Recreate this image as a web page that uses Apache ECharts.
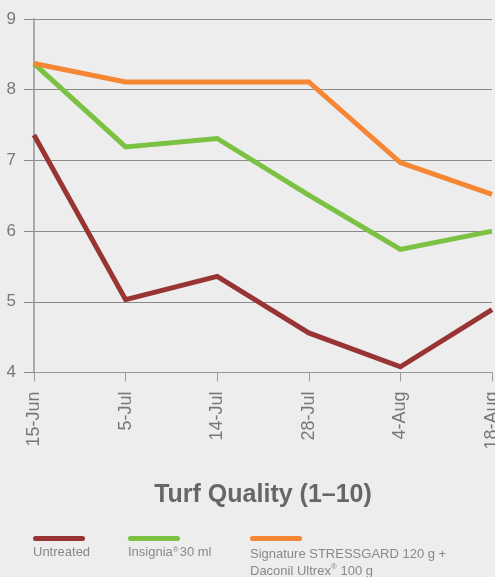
<!DOCTYPE html>
<html><head><meta charset="utf-8">
<script src="https://cdn.jsdelivr.net/npm/echarts@6/dist/echarts.min.js"></script>
<style>html,body{margin:0;padding:0;background:#ededed}#c{width:495px;height:577px}</style>
</head><body><div id="c"></div>
<script>
const categories = ['15-Jun','5-Jul','14-Jul','28-Jul','4-Aug','18-Aug'];
const untreated = [7.36, 5.03, 5.36, 4.56, 4.08, 4.89];
const insignia = [8.37, 7.19, 7.31, 6.51, 5.74, 6.0];
const signature = [8.37, 8.11, 8.11, 8.11, 6.97, 6.52];
const seriesNames = ['Untreated', 'Insignia® 30 ml', 'Signature STRESSGARD 120 g + Daconil Ultrex® 100 g'];
const colors = ['#983434', '#7bc142', '#f58634'];
const yTicks = [4,5,6,7,8,9];

const chart = echarts.init(document.getElementById('c'));
const font = 'Liberation Sans, Arial, sans-serif';
function ser(name, data, color){
  return {name, type:'line', data, symbol:'none', lineStyle:{color, width:5, join:'miter'}, itemStyle:{color}};
}
chart.setOption({
  backgroundColor:'#ededed',
  animation:false,
  grid:{left:34, right:3, top:19, bottom:204.5, outerBoundsMode:'none', containLabel:false},
  xAxis:{type:'category', data:categories, boundaryGap:false,
    axisLine:{lineStyle:{color:'#999', width:1}},
    axisTick:{show:true, length:9, alignWithLabel:true, lineStyle:{color:'#999'}},
    axisLabel:{rotate:90, fontSize:18, color:'#777', fontFamily:font, margin:19, interval:0, hideOverlap:false}},
  yAxis:{type:'value', min:yTicks[0], max:yTicks[yTicks.length-1], interval:1,
    axisLine:{show:true, lineStyle:{color:'#aaa', width:2}},
    axisTick:{show:true, length:10, lineStyle:{color:'#888'}},
    splitLine:{lineStyle:{color:'#8a8a8a', width:1}},
    axisLabel:{fontSize:17, color:'#777', fontFamily:font, margin:18}},
  series:[ser(seriesNames[0], untreated, colors[0]), ser(seriesNames[1], insignia, colors[1]), ser(seriesNames[2], signature, colors[2])],
  graphic:[
    {type:'text', x:263, y:483, style:{text:'Turf Quality (1–10)', font:'bold 25px '+font, fill:'#666', textAlign:'center'}},
    {type:'rect', shape:{x:33, y:536, width:52, height:5, r:2.5}, style:{fill:colors[0]}},
    {type:'rect', shape:{x:128, y:536, width:52, height:5, r:2.5}, style:{fill:colors[1]}},
    {type:'rect', shape:{x:250, y:536, width:52, height:5, r:2.5}, style:{fill:colors[2]}},
    {type:'text', x:33, y:546, style:{text:'Untreated', font:'13px '+font, fill:'#888'}},
    {type:'text', x:128, y:546, style:{text:'Insignia{s|®}30 ml', font:'13px '+font, fill:'#888',
      rich:{s:{fontSize:8, fill:'#888', verticalAlign:'top', padding:[0,1,4,0]}}}},
    {type:'text', x:250, y:546, style:{text:'Signature STRESSGARD 120 g +\nDaconil Ultrex{s|®} 100 g', font:'13px '+font, fill:'#888', lineHeight:17,
      rich:{s:{fontSize:8, fill:'#888', verticalAlign:'top', padding:[0,0,4,0]}}}}
  ]
});
</script></body></html>
